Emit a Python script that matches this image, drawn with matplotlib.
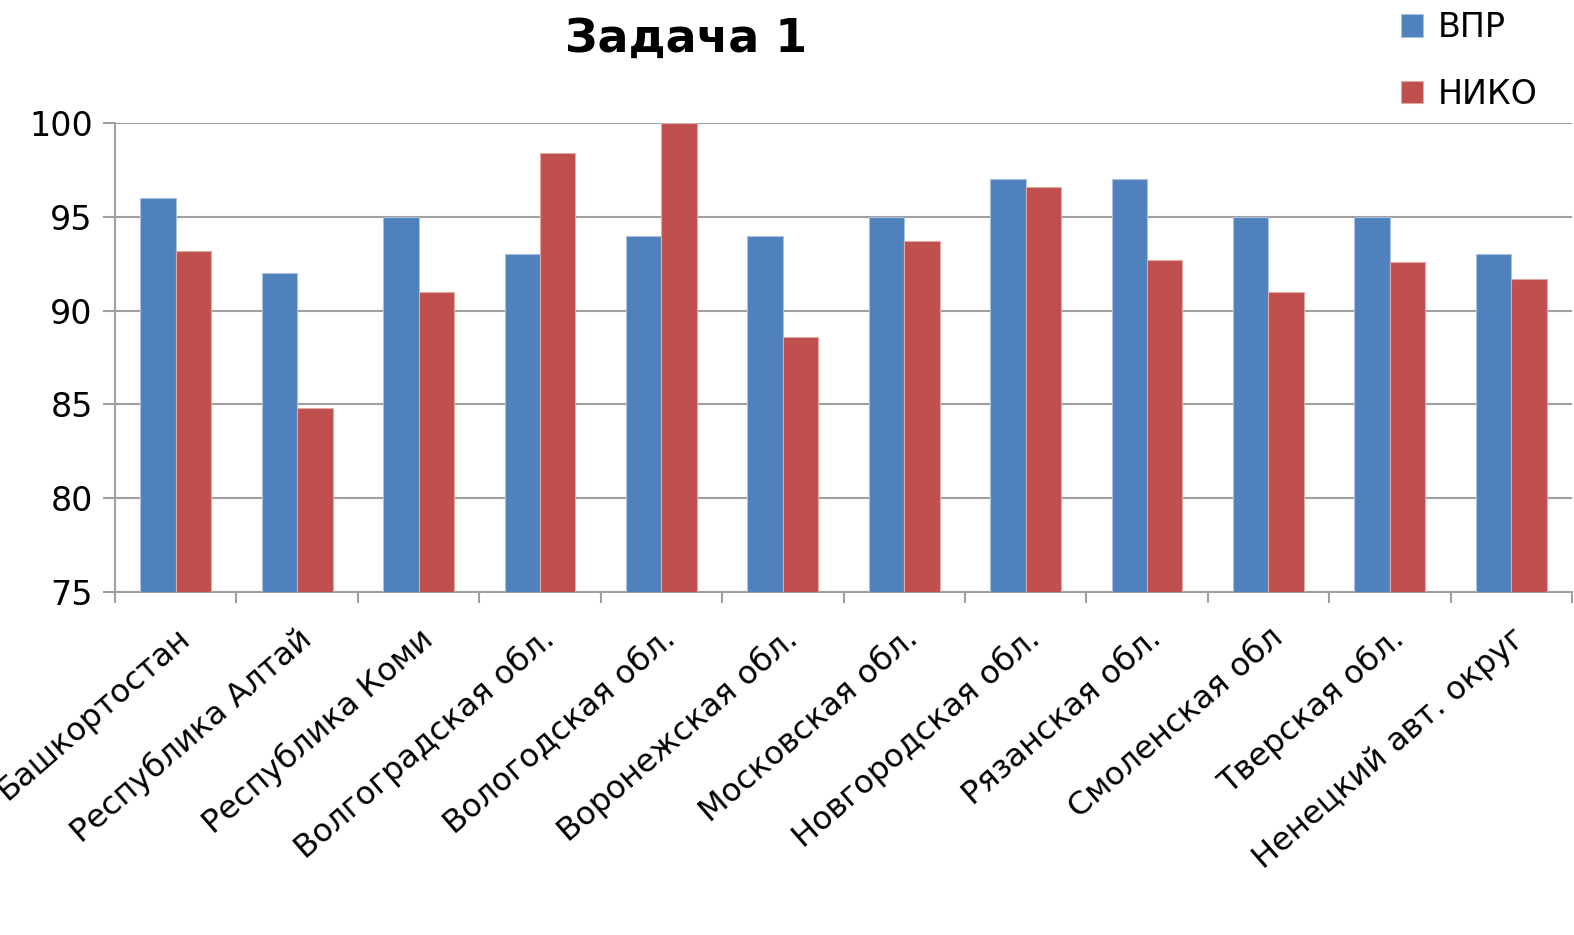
import numpy as np
import matplotlib
matplotlib.use("Agg")
import matplotlib.pyplot as plt

regions = ["Башкортостан", "Республика Алтай", "Республика Коми", "Волгоградская обл.",
           "Вологодская обл.", "Воронежская обл.", "Московская обл.", "Новгородская обл.",
           "Рязанская обл.", "Смоленская обл", "Тверская обл.", "Ненецкий авт. округ"]
vpr = [96, 92, 95, 93, 94, 94, 95, 97, 97, 95, 95, 93]
niko = [93.2, 84.8, 91.0, 98.4, 100, 88.6, 93.7, 96.6, 92.7, 91.0, 92.6, 91.7]

plt.rcParams['font.family'] = ['DejaVu Sans']

fig = plt.figure(figsize=(15.74, 9.35), dpi=100)
ax = fig.add_axes([0.0731, 0.3668, 0.9256, 0.5016])

x = np.arange(len(regions))
w = 0.292
ax.bar(x - w / 2, vpr, w, color='#4F81BD', edgecolor='#a9c0e0', linewidth=0.8, label='ВПР', zorder=3)
ax.bar(x + w / 2, niko, w, color='#C0504D', edgecolor='#e0a9a8', linewidth=0.8, label='НИКО', zorder=3)

ax.set_ylim(75, 100)
ax.set_xlim(-0.5, len(regions) - 0.5)
ax.set_yticks([75, 80, 85, 90, 95, 100])
ax.yaxis.grid(True, color='#a0a0a0', linewidth=1.5, zorder=0)
ax.tick_params(axis='y', labelsize=24, length=9, width=1.5, color='#a0a0a0', pad=7)

ax.set_xticks(x)
ax.set_xticklabels(regions, rotation=41, ha='right', rotation_mode='anchor', fontsize=23)
ax.set_xticks(np.arange(len(regions) + 1) - 0.5, minor=True)
ax.tick_params(axis='x', which='major', length=0, pad=22)
ax.tick_params(axis='x', which='minor', length=8, width=1.5, color='#a0a0a0')

for s in ['top', 'right']:
    ax.spines[s].set_visible(False)
for s in ['left', 'bottom']:
    ax.spines[s].set_color('#a0a0a0')
    ax.spines[s].set_linewidth(1.5)

fig.text(0.436, 0.958, 'Задача 1', ha='center', va='center', fontsize=33, fontweight='bold')

fig.legend(loc='upper left', bbox_to_anchor=(0.871, 1.02), frameon=False, fontsize=24,
           handlelength=0.65, handleheight=0.65, handletextpad=0.45, labelspacing=1.0)

fig.savefig('out.png', dpi=100)
